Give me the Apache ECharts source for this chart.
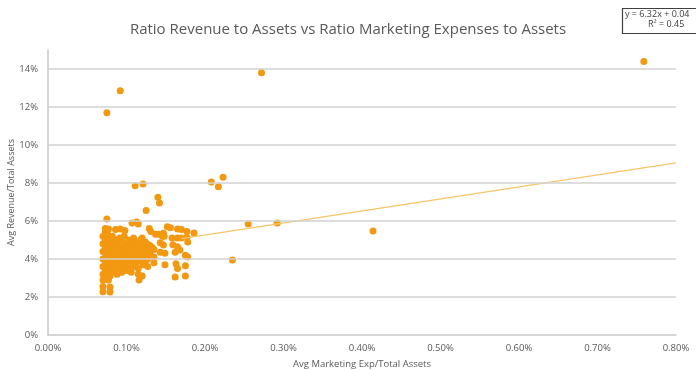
<!DOCTYPE html>
<html>
<head>
<meta charset="utf-8">
<script src="https://cdn.jsdelivr.net/npm/echarts@6/dist/echarts.min.js"></script>
<style>
  html, body { margin: 0; padding: 0; background: #fff; }
  #chart { width: 696px; height: 370px; }
</style>
</head>
<body>
<div id="chart"></div>
<script>
// Axis ticks (percent units)
const xTicks = [0, 0.1, 0.2, 0.3, 0.4, 0.5, 0.6, 0.7, 0.8];
const yTicks = [0, 2, 4, 6, 8, 10, 12, 14];

// Company observations: [avg marketing exp / total assets %, avg revenue / total assets %]
const outliers = [
  [0.075, 11.7], [0.092, 12.85], [0.272, 13.8], [0.759, 14.4],
  [0.111, 7.85], [0.121, 7.95], [0.140, 7.25], [0.142, 6.95], [0.125, 6.55],
  [0.208, 8.05], [0.217, 7.8], [0.223, 8.3],
  [0.186, 5.37], [0.255, 5.84], [0.292, 5.89], [0.414, 5.47], [0.235, 3.95],
  [0.168, 4.47], [0.175, 4.2], [0.178, 4.1]
];
const fringe = [
  [0.075, 6.1], [0.073, 5.6], [0.073, 5.4], [0.077, 5.58], [0.086, 5.55], [0.092, 5.58],
  [0.098, 5.5], [0.107, 5.9], [0.113, 5.95], [0.115, 5.84], [0.129, 5.6], [0.131, 5.45],
  [0.152, 5.7], [0.156, 5.65], [0.165, 5.58], [0.141, 5.3], [0.146, 5.2], [0.158, 5.1],
  [0.165, 5.1], [0.120, 5.1], [0.124, 4.9], [0.128, 4.75], [0.133, 4.6], [0.143, 4.85],
  [0.147, 4.74], [0.143, 4.35], [0.149, 4.3], [0.159, 4.75], [0.165, 4.65], [0.162, 4.35],
  [0.149, 3.7], [0.165, 3.5], [0.162, 3.05], [0.115, 3.2], [0.120, 3.1], [0.116, 2.9],
  [0.070, 2.9], [0.077, 2.9], [0.070, 2.55], [0.079, 2.53], [0.070, 2.28], [0.079, 2.26],
  [0.137, 5.3], [0.147, 5.35], [0.148, 5.2], [0.170, 5.55], [0.177, 5.45], [0.170, 5.1],
  [0.177, 5.15], [0.178, 4.9], [0.163, 3.75], [0.175, 3.65], [0.175, 3.1]
];
const core = [
  [0.070, 3.2], [0.070, 3.6], [0.070, 4.0], [0.070, 4.4], [0.070, 4.8], [0.070, 5.2],
  [0.073, 3.4], [0.073, 3.9], [0.073, 4.3], [0.073, 4.6], [0.073, 5.0], [0.073, 3.0],
  [0.076, 3.3], [0.076, 3.7], [0.076, 4.1], [0.076, 4.5], [0.076, 4.9], [0.076, 5.3],
  [0.079, 3.5], [0.079, 3.9], [0.079, 4.2], [0.079, 4.7], [0.079, 5.1], [0.079, 3.1],
  [0.082, 3.3], [0.082, 3.8], [0.082, 4.0], [0.082, 4.4], [0.082, 4.8], [0.082, 5.2],
  [0.085, 3.4], [0.085, 3.7], [0.085, 4.1], [0.085, 4.3], [0.085, 4.6], [0.085, 5.0],
  [0.088, 3.2], [0.088, 3.6], [0.088, 3.9], [0.088, 4.2], [0.088, 4.5], [0.088, 4.9],
  [0.091, 3.5], [0.091, 3.8], [0.091, 4.0], [0.091, 4.4], [0.091, 4.7], [0.091, 5.1],
  [0.094, 3.3], [0.094, 3.7], [0.094, 4.1], [0.094, 4.3], [0.094, 4.6], [0.094, 4.9],
  [0.097, 3.6], [0.097, 3.9], [0.097, 4.2], [0.097, 4.5], [0.097, 4.8], [0.097, 5.2],
  [0.100, 3.4], [0.100, 3.8], [0.100, 4.0], [0.100, 4.4], [0.100, 4.7],
  [0.103, 3.5], [0.103, 3.9], [0.103, 4.2], [0.103, 4.6], [0.103, 5.0],
  [0.106, 3.3], [0.106, 3.7], [0.106, 4.1], [0.106, 4.4], [0.106, 4.8],
  [0.109, 3.6], [0.109, 4.0], [0.109, 4.3], [0.109, 4.7], [0.109, 5.1],
  [0.112, 3.8], [0.112, 4.2], [0.112, 4.5], [0.112, 4.9],
  [0.115, 3.5], [0.115, 4.0], [0.115, 4.4], [0.115, 4.8],
  [0.118, 3.9], [0.118, 4.3], [0.118, 4.6], [0.118, 5.0],
  [0.121, 4.1], [0.121, 4.5], [0.121, 4.8], [0.121, 3.7],
  [0.124, 4.2], [0.124, 4.6], [0.124, 3.9],
  [0.127, 4.4], [0.127, 4.0], [0.127, 3.6],
  [0.130, 4.3], [0.130, 4.7],
  [0.135, 4.5], [0.135, 4.1], [0.135, 3.8]
];

// Linear trend: y = 6.32x + 0.04 (fractions), i.e. in percent units y% = 6.32·x% + 4
const slope = 6.32;
const intercept = 4;
const trendRange = [0.17, 0.8];
const equationText = 'y = 6.32x + 0.04';
const r2Text = 'R² = 0.45';

const points = outliers.concat(fringe, core);
const trend = trendRange.map(x => [x, slope * x + intercept]);

const FONT = 'Open Sans';
const TEXT = '#595959';

const chart = echarts.init(document.getElementById('chart'));
chart.setOption({
  backgroundColor: '#ffffff',
  animation: false,
  title: {
    text: 'Ratio Revenue to Assets vs Ratio Marketing Expenses to Assets',
    left: 'center',
    top: 17,
    textStyle: { fontFamily: FONT, fontSize: 15, fontWeight: 'normal', color: TEXT }
  },
  grid: { left: 48, right: 20, top: 50, bottom: 35, outerBoundsMode: 'none' },
  xAxis: {
    type: 'value',
    min: xTicks[0],
    max: xTicks[xTicks.length - 1],
    interval: 0.1,
    name: 'Avg Marketing Exp/Total Assets',
    nameLocation: 'middle',
    nameGap: 24,
    nameTextStyle: { fontFamily: FONT, fontSize: 9.5, color: TEXT },
    axisLine: { lineStyle: { color: '#c8c8c8', width: 1.5 } },
    axisTick: { show: false },
    splitLine: { show: false },
    axisLabel: {
      fontFamily: FONT, fontSize: 9.5, color: TEXT, margin: 8,
      formatter: v => v.toFixed(2) + '%'
    }
  },
  yAxis: {
    type: 'value',
    min: 0,
    max: 15,
    interval: 2,
    name: 'Avg Revenue/Total Assets',
    nameLocation: 'middle',
    nameGap: 32,
    nameMoveOverlap: false,
    nameTextStyle: { fontFamily: FONT, fontSize: 9, color: TEXT },
    axisLine: { show: true, lineStyle: { color: '#c8c8c8', width: 1.5 } },
    axisTick: { show: false },
    splitLine: { show: false },
    axisLabel: {
      fontFamily: FONT, fontSize: 9.5, color: TEXT, margin: 10,
      formatter: v => (yTicks.indexOf(v) >= 0 ? v + '%' : '')
    }
  },
  graphic: [
    {
      type: 'rect',
      shape: { x: 622.5, y: 8.5, width: 90, height: 25 },
      style: { fill: '#ffffff', stroke: '#404040', lineWidth: 1.2 }
    },
    {
      type: 'text',
      x: 625, y: 10,
      style: { text: equationText, fontFamily: FONT, fontSize: 9, fill: '#404040' }
    },
    {
      type: 'text',
      x: 648, y: 20,
      style: { text: r2Text, fontFamily: FONT, fontSize: 9, fill: '#404040' }
    }
  ],
  series: [
    {
      type: 'line',
      data: [],
      silent: true,
      z: 1,
      markLine: {
        silent: true,
        symbol: 'none',
        label: { show: false },
        lineStyle: { color: '#d2d2d2', width: 1.5, type: 'solid' },
        data: yTicks.filter(v => v > 0).map(v => ({ yAxis: v }))
      }
    },
    {
      type: 'scatter',
      data: points,
      symbolSize: 7,
      z: 3,
      itemStyle: { color: '#F29811', opacity: 1 }
    },
    {
      type: 'line',
      data: trend,
      showSymbol: false,
      z: 4,
      lineStyle: { color: '#F6C46A', width: 1.2 }
    }
  ]
});
</script>
</body>
</html>
